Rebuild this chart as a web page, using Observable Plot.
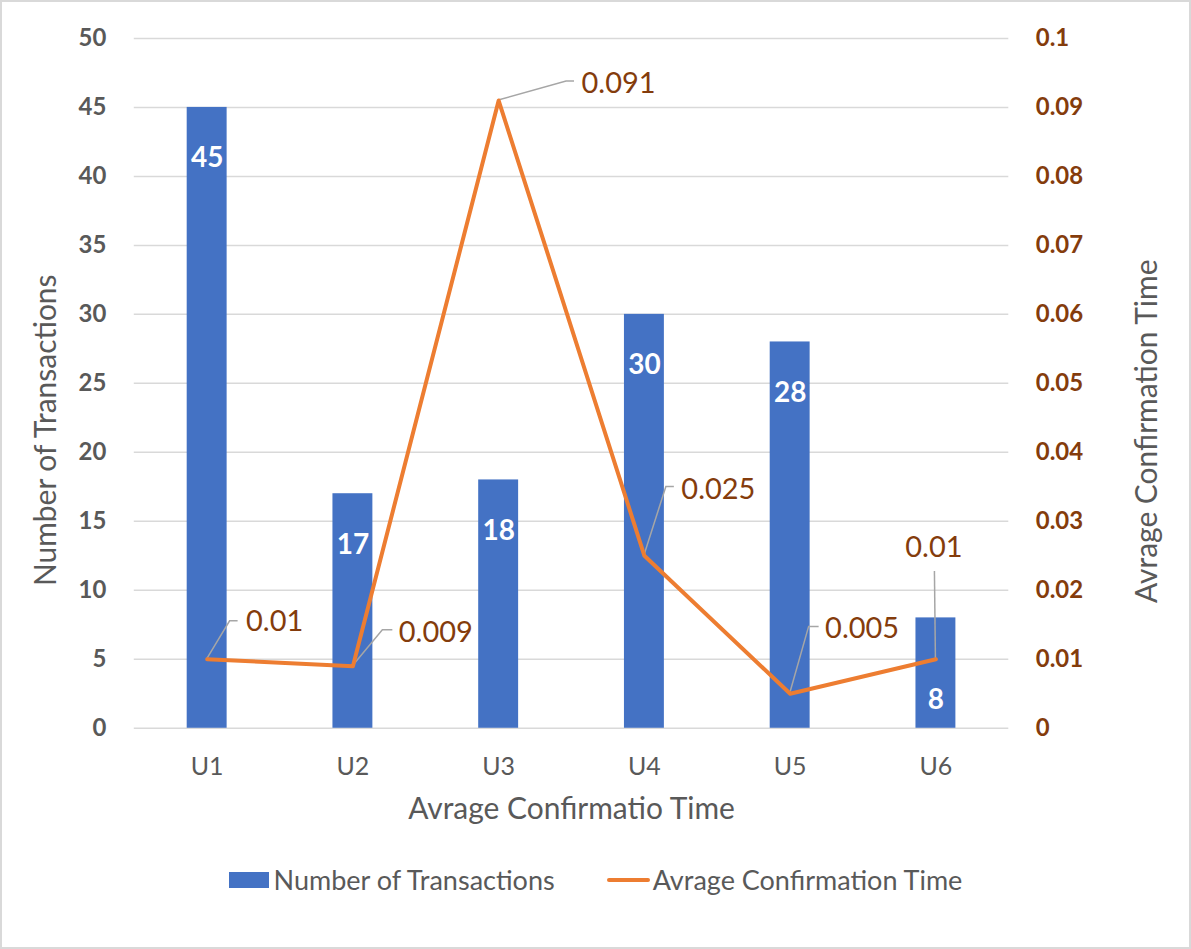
<!DOCTYPE html>
<html><head><meta charset="utf-8">
<script src="https://cdn.jsdelivr.net/npm/d3@7"></script>
<script src="https://cdn.jsdelivr.net/npm/@observablehq/plot@0.6"></script>
<style>
html,body{margin:0;padding:0;background:#fff;}
#chart{position:relative;width:1191px;height:949px;box-sizing:border-box;border:2px solid #d9d9d9;font-family:Lato,sans-serif;overflow:hidden;}
#plot{position:absolute;left:-2px;top:-2px;}
#legend{position:absolute;top:861px;left:0;right:0;display:flex;justify-content:center;align-items:center;font-size:27px;color:#595959;line-height:34px;}
#legend .item{display:flex;align-items:center;}
#legend .sw-bar{width:40px;height:16px;background:#4472C4;margin-right:5px;}
#legend .sw-line{width:43px;height:4px;background:#ED7D31;border-radius:2px;margin-right:3px;}
#legend .gap{width:52px;}
</style></head><body>
<div id="chart"><div id="plot"></div><div id="legend"></div></div>
<script>
// ---- data ----
const units = ["U1", "U2", "U3", "U4", "U5", "U6"];
const transactions = [45, 17, 18, 30, 28, 8];
const confirmTimes = [0.01, 0.009, 0.091, 0.025, 0.005, 0.01];
const confirmLabels = ["0.01", "0.009", "0.091", "0.025", "0.005", "0.01"];
const leftTicks = [0, 5, 10, 15, 20, 25, 30, 35, 40, 45, 50];
const rightTickLabels = ["0", "0.01", "0.02", "0.03", "0.04", "0.05", "0.06", "0.07", "0.08", "0.09", "0.1"];
const seriesNames = ["Number of Transactions", "Avrage Confirmation Time"];
const xTitle = "Avrage Confirmatio Time";
const leftTitle = "Number of Transactions";
const rightTitle = "Avrage Confirmation Time";

// ---- derived ----
const RATIO = 50 / 0.1; // right axis (0..0.1) mapped onto left axis (0..50)
const rows = units.map((u, i) => ({unit: u, count: transactions[i], time: confirmTimes[i], label: confirmLabels[i]}));
const rightTicks = rightTickLabels.map(s => parseFloat(s) * RATIO);
const rightLabelMap = new Map(rightTickLabels.map(s => [Math.round(parseFloat(s) * RATIO * 1000), s]));

// ---- styling (pixels) ----
const BLUE = "#4472C4", ORANGE = "#ED7D31", BROWN = "#843C0C", GRAY = "#595959";
const leaderOffsets = [[23, -38, 8], [30, -36, 10], [68, -19, 8], [22, -69, 8], [19, -67, 10], [-1, -88, 0]];
const labelOffsets = [[39, -38, "start"], [46, -34, "start"], [83, -17, "start"], [37, -66, "start"], [35, -65, "start"], [-2, -112, "middle"]];

function leaderMark(index, scales) {
  const xs = scales.x, ys = scales.y;
  const half = typeof xs.bandwidth === "function" ? xs.bandwidth() / 2 : 0;
  const g = d3.create("svg:g").attr("fill", "none").attr("stroke", "#a6a6a6").attr("stroke-width", 1.5);
  rows.forEach((d, i) => {
    const x0 = xs(d.unit) + half, y0 = ys(d.time * RATIO);
    const [ex, ey, hx] = leaderOffsets[i];
    g.append("polyline").attr("points", `${x0},${y0} ${x0 + ex},${y0 + ey} ${x0 + ex + hx},${y0 + ey}`);
  });
  return g.node();
}

const lineLabelMarks = rows.map((d, i) => Plot.text([d], {
  x: "unit", y: r => r.time * RATIO, text: "label",
  dx: labelOffsets[i][0], dy: labelOffsets[i][1], textAnchor: labelOffsets[i][2],
  fill: BROWN, fontSize: 29
}));

const chart = Plot.plot({
  width: 1191,
  height: 850,
  marginTop: 38,
  marginBottom: 121,
  marginLeft: 134,
  marginRight: 181,
  style: {fontFamily: "Lato, sans-serif", background: "transparent", overflow: "visible"},
  x: {domain: units, paddingInner: 0.726, paddingOuter: 0.363, label: null},
  y: {domain: [0, 50], label: null},
  marks: [
    Plot.gridY(leftTicks, {stroke: "#d9d9d9", strokeOpacity: 1, strokeWidth: 1.5}),
    Plot.barY(rows, {x: "unit", y: "count", fill: BLUE}),
    Plot.text(rows.filter((d, i) => i < 5), {x: "unit", y: "count", text: d => String(d.count), dy: 51, fill: "white", fontWeight: "bold", fontSize: 28}),
    Plot.text(rows.filter((d, i) => i === 5), {x: "unit", y: "count", text: d => String(d.count), dy: 82, fill: "white", fontWeight: "bold", fontSize: 28}),
    Plot.axisY(leftTicks, {anchor: "left", tickSize: 0, tickPadding: 28, fontSize: 24, fontWeight: "bold", fill: GRAY, label: null}),
    Plot.axisY(rightTicks, {anchor: "right", tickSize: 0, tickPadding: 27, fontSize: 24, fontWeight: "bold", fill: BROWN, label: null,
      tickFormat: v => rightLabelMap.get(Math.round(v * 1000))}),
    Plot.axisX({anchor: "bottom", tickSize: 0, tickPadding: 29, fontSize: 25, fill: GRAY, label: null}),
    leaderMark,
    Plot.lineY(rows, {x: "unit", y: d => d.time * RATIO, stroke: ORANGE, strokeWidth: 4, strokeLinejoin: "round", strokeLinecap: "round"}),
    ...lineLabelMarks,
    Plot.text([xTitle], {frameAnchor: "bottom", dy: 81, lineAnchor: "middle", textAnchor: "middle", fontSize: 30, fill: GRAY}),
    Plot.text([leftTitle], {frameAnchor: "left", dx: -88, dy: 47, rotate: -90, textAnchor: "middle", lineAnchor: "middle", fontSize: 30, fill: GRAY}),
    Plot.text([rightTitle], {frameAnchor: "right", dx: 139, dy: 48, rotate: -90, textAnchor: "middle", lineAnchor: "middle", fontSize: 30, fill: GRAY})
  ]
});
document.getElementById("plot").appendChild(chart);

// ---- legend ----
const legend = document.getElementById("legend");
legend.innerHTML =
  `<div class="item"><div class="sw-bar"></div><span>${seriesNames[0]}</span></div>` +
  `<div class="gap"></div>` +
  `<div class="item"><div class="sw-line"></div><span>${seriesNames[1]}</span></div>`;
</script>
</body></html>
